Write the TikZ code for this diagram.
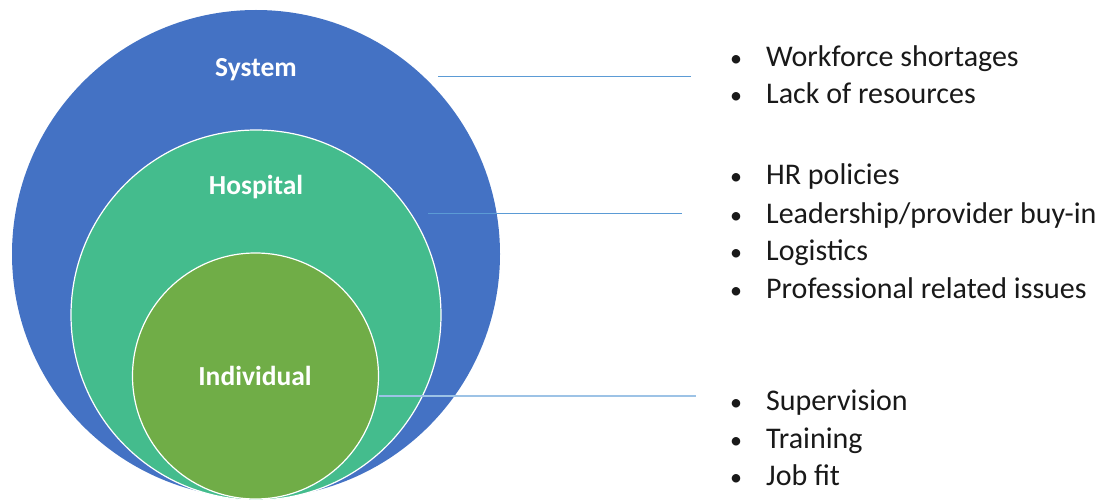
\documentclass[tikz,border=0pt]{standalone}
\usepackage{fontspec}
\setmainfont{Carlito}
\begin{document}
\begin{tikzpicture}[x=1pt,y=-1pt,
  ring/.style={circle, inner sep=0pt, draw=white, line width=1.2pt},
  lbl/.style={anchor=base, text=white, font=\fontsize{27.5}{32}\selectfont\bfseries, inner sep=0pt},
  item/.style={anchor=base west, font=\fontsize{30}{36}\selectfont, inner sep=0pt, text=black!90},
  bul/.style={anchor=base, font=\fontsize{24}{28}\selectfont, inner sep=0pt, text=black!90},
  link/.style={draw=linkblue, line width=1pt}]
\definecolor{sysblue}{HTML}{4472C4}
\definecolor{hospgreen}{HTML}{44BC8D}
\definecolor{indgreen}{HTML}{70AD47}
\definecolor{linkblue}{HTML}{5B9BD5}
\definecolor{linklight}{HTML}{9DC3E6}
\useasboundingbox[fill=white] (0,0) rectangle (1120,500);
\node[circle, inner sep=0pt, minimum size=488pt, fill=sysblue] (sys) at (256,254) {};
\node[ring, minimum size=370pt, fill=hospgreen] (hosp) at (256,315) {};
\node[ring, minimum size=246pt, fill=indgreen] (ind) at (255.5,376) {};
\node[lbl] (tsys) at (256,77) {System};
\node[lbl] (thosp) at (256,195) {Hospital};
\node[lbl] (tind) at (255,385) {Individual};
% connectors
\coordinate (s1) at (438,77);
\coordinate (s2) at (691,77);
\coordinate (h1) at (428,214);
\coordinate (h2) at (682,214);
\coordinate (i1) at (ind.east |- 0,396);
\coordinate (i2) at (696,396);
\draw[link] (s1) -- (s2);
\draw[link] (h1) -- (h2);
\draw[draw=linklight, line width=1.6pt] (i1) -- (i2);
% lists
\foreach \y/\t [count=\k] in {67/{Workforce shortages}, 104/{Lack of resources},
  185/{HR policies}, 223/{Leadership/provider buy-in}, 260/{Logistics}, 298/{Professional related issues},
  410/{Supervision}, 448/{Training}, 485/{Job fit}} {
  \node[bul] (b\k) at (736,\y) {•};
  \node[item] (t\k) at (766,\y) {\t};
}
\end{tikzpicture}
\end{document}
